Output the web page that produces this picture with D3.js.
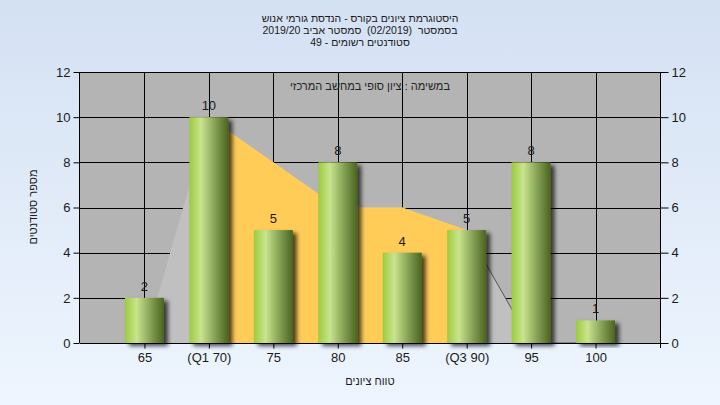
<!DOCTYPE html>
<html><head><meta charset="utf-8">
<script src="https://cdn.jsdelivr.net/npm/d3@7"></script>
<style>
html,body{margin:0;padding:0;}
svg{display:block;font-family:"Liberation Sans",Arial,sans-serif;}
</style></head>
<body>
<svg id="c" width="720" height="405"></svg>
<script>
const titleLines = ["היסטוגרמת ציונים בקורס - הנדסת גורמי אנוש", "בסמסטר  (02/2019)  סמסטר אביב 2019/20", "סטודנטים רשומים - 49"];
const innerTitle = "במשימה : ציון סופי במחשב המרכזי";
const xTitle = "טווח ציונים";
const yTitle = "מספר סטודנטים";
const categories = ["65", "(Q1 70)", "75", "80", "85", "(Q3 90)", "95", "100"];
const counts = [2, 10, 5, 8, 4, 5, 8, 1];
const curve = [0, 10, 8, 6, 6, 5, 0, 0];
const q1Index = 1, q3Index = 5;
const yTicks = [0, 2, 4, 6, 8, 10, 12];

const W = 720, H = 405;
const L = 80, R = 660, T = 72, B = 343;
const svg = d3.select("#c");
const defs = svg.append("defs");

const bg = defs.append("linearGradient").attr("id","bg").attr("x1",0).attr("y1",0).attr("x2",0).attr("y2",1);
bg.append("stop").attr("offset",0).attr("stop-color","#d4e1f3");
bg.append("stop").attr("offset",1).attr("stop-color","#eef5fe");

const bar = defs.append("linearGradient").attr("id","bar").attr("x1",0).attr("y1",0).attr("x2",1).attr("y2",0);
bar.append("stop").attr("offset",0).attr("stop-color","#9ccb3e");
bar.append("stop").attr("offset",0.3).attr("stop-color","#c9e48e");
bar.append("stop").attr("offset",0.65).attr("stop-color","#86a255");
bar.append("stop").attr("offset",1).attr("stop-color","#4a6420");

const sh = defs.append("filter").attr("id","sh").attr("x","-20%").attr("y","-10%").attr("width","150%").attr("height","130%");
sh.append("feDropShadow").attr("dx",4).attr("dy",3).attr("stdDeviation",2).attr("flood-color","#000").attr("flood-opacity",0.7);

svg.append("rect").attr("width",W).attr("height",H).attr("fill","url(#bg)");

const step = (R - L) / (categories.length + 1);
const x = d3.scalePoint().domain(categories).range([L + step, R - step]);
const y = d3.scaleLinear().domain([0, 12]).range([B, T]);

// plot background
svg.append("rect").attr("x",L).attr("y",T).attr("width",R-L).attr("height",B-T).attr("fill","#b4b4b4");

// grid
const g = svg.append("g").attr("stroke","#000").attr("stroke-width",1);
yTicks.forEach(t => g.append("line").attr("x1",L).attr("x2",R).attr("y1",Math.round(y(t))+0.5).attr("y2",Math.round(y(t))+0.5));
categories.forEach(c => g.append("line").attr("x1",Math.round(x(c))+0.5).attr("x2",Math.round(x(c))+0.5).attr("y1",T).attr("y2",B));

// areas
const pts = categories.map((c,i)=>({c, v:curve[i]}));
const area = d3.area().x(d=>x(d.c)).y0(y(0)).y1(d=>y(d.v));
svg.append("path").attr("d",area(pts)).attr("fill","#c0c0c0");
svg.append("path").attr("d",area(pts.slice(q1Index,q3Index+1))).attr("fill","#ffcc58");
const line = d3.line().x(d=>x(d.c)).y(d=>y(d.v));
svg.append("path").attr("d",line(pts.slice(q3Index))).attr("fill","none").attr("stroke","#555").attr("stroke-width",1);

// inner title
svg.append("text").attr("x",(L+R)/2).attr("y",90).attr("text-anchor","middle").attr("direction","rtl")
  .attr("font-size",11).attr("fill","#222").text(innerTitle);

// bars
const bw = 39;
svg.append("g").selectAll("rect").data(counts).join("rect")
  .attr("x",(d,i)=>x(categories[i])-bw/2).attr("y",d=>y(d)).attr("width",bw).attr("height",d=>y(0)-y(d))
  .attr("fill","url(#bar)").attr("filter","url(#sh)");
svg.append("g").selectAll("text").data(counts).join("text")
  .attr("x",(d,i)=>x(categories[i])).attr("y",d=>y(d)-7).attr("text-anchor","middle")
  .attr("font-size",13).attr("fill","#1a1a1a").text(d=>d);

// plot border & axes
svg.append("line").attr("x1",L-0.5).attr("x2",L-0.5).attr("y1",T).attr("y2",B).attr("stroke","#000");
svg.append("line").attr("x1",R+0.5).attr("x2",R+0.5).attr("y1",T).attr("y2",B+5).attr("stroke","#000");
const xAxis = svg.append("g").attr("transform",`translate(0,${B+0.5})`)
  .call(d3.axisBottom(x).tickSize(5).tickPadding(4));
xAxis.select(".domain").attr("d",`M${L},0H${R}`).attr("stroke","#000");
xAxis.selectAll("text").attr("font-size",13).attr("fill","#1a1a1a").attr("font-family","Liberation Sans, Arial, sans-serif");
const yl = svg.append("g").attr("transform",`translate(${L-0.5},0)`)
  .call(d3.axisLeft(y).tickValues(yTicks).tickSize(6).tickPadding(3));
yl.select(".domain").remove();
yl.selectAll("text").attr("font-size",13).attr("fill","#1a1a1a").attr("font-family","Liberation Sans, Arial, sans-serif");
const yr = svg.append("g").attr("transform",`translate(${R+0.5},0)`)
  .call(d3.axisRight(y).tickValues(yTicks).tickSize(8).tickPadding(3));
yr.select(".domain").remove();
yr.selectAll("text").attr("font-size",13).attr("fill","#1a1a1a").attr("font-family","Liberation Sans, Arial, sans-serif");

// titles
svg.append("g").selectAll("text").data(titleLines).join("text")
  .attr("x",360).attr("y",(d,i)=>22+i*12.2).attr("text-anchor","middle").attr("direction","rtl")
  .attr("font-size",10.5).style("white-space","pre").attr("fill","#1a1a1a").text(d=>d);
svg.append("text").attr("x",(L+R)/2).attr("y",385).attr("text-anchor","middle").attr("direction","rtl")
  .attr("font-size",11).attr("fill","#1a1a1a").text(xTitle);
svg.append("text").attr("transform","translate(37,207) rotate(-90)").attr("text-anchor","middle").attr("direction","rtl")
  .attr("font-size",11).attr("fill","#1a1a1a").text(yTitle);
</script>
</body></html>
